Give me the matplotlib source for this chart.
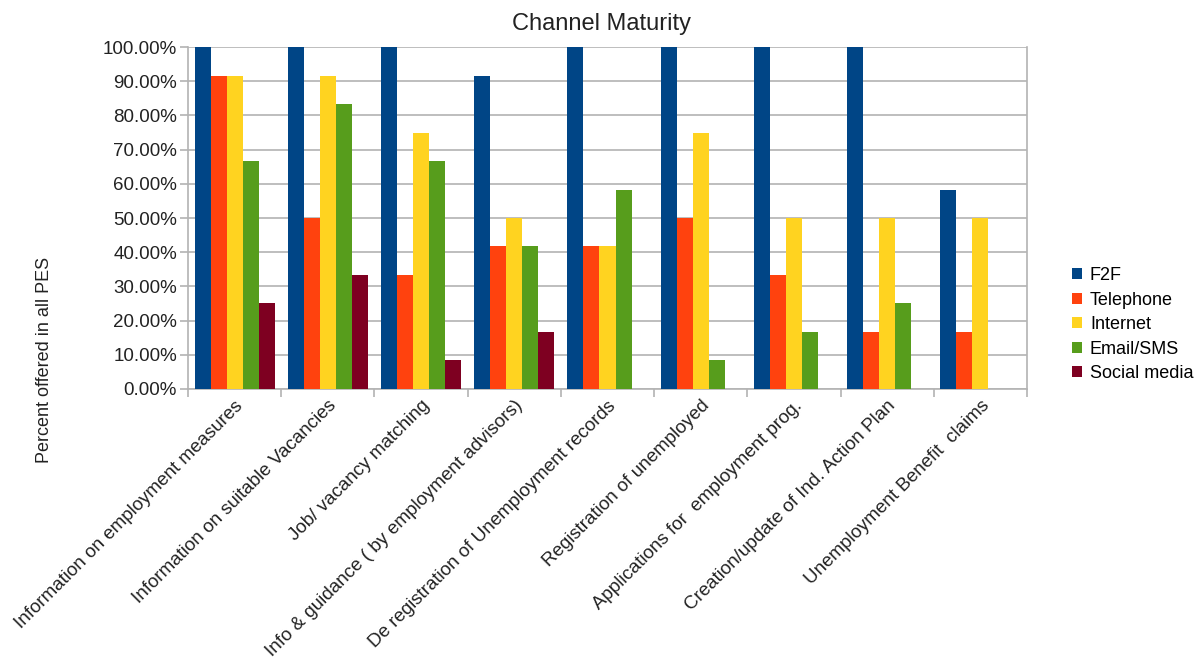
import numpy as np
import matplotlib
matplotlib.use("Agg")
import matplotlib.pyplot as plt
from matplotlib.ticker import FuncFormatter

plt.rcParams['font.family'] = ['Liberation Sans', 'DejaVu Sans']

categories = [
    "Information on employment measures",
    "Information on suitable Vacancies",
    "Job/ vacancy matching",
    "Info & guidance ( by employment advisors)",
    "De registration of Unemployment records",
    "Registration of unemployed",
    "Applications for  employment prog.",
    "Creation/update of Ind. Action Plan",
    "Unemployment Benefit  claims",
]
series = ["F2F", "Telephone", "Internet", "Email/SMS", "Social media"]
f2f = [100, 100, 100, 91.67, 100, 100, 100, 100, 58.33]
telephone = [91.67, 50, 33.33, 41.67, 41.67, 50, 33.33, 16.67, 16.67]
internet = [91.67, 91.67, 75, 50, 41.67, 75, 50, 50, 50]
email_sms = [66.67, 83.33, 66.67, 41.67, 58.33, 8.33, 16.67, 25, 0]
social = [25, 33.33, 8.33, 16.67, 0, 0, 0, 0, 0]
colors = ["#004586", "#ff420e", "#ffd320", "#579d1c", "#7e0021"]

fig = plt.figure(figsize=(12.03, 6.68), dpi=100)
ax = fig.add_axes([0.1563, 0.4177, 0.6974, 0.5119])

x = np.arange(len(categories))
w = 0.172
for i, (name, vals) in enumerate(zip(series, [f2f, telephone, internet, email_sms, social])):
    ax.bar(x + (i - 2) * w, vals, w, color=colors[i], label=name, zorder=3)

ax.set_xlim(-0.5, len(categories) - 0.5)
ax.set_ylim(0, 100)
ax.set_yticks(np.arange(0, 101, 10))
ax.yaxis.set_major_formatter(FuncFormatter(lambda v, p: f"{v:.2f}%"))
ax.grid(axis='y', color='#b3b3b3', linewidth=1.2, zorder=0)

# group separators as ticks on the category axis
ax.set_xticks(np.arange(-0.5, len(categories), 1.0))
ax.set_xticklabels([])
ax.set_xticks(x, minor=True)
ax.set_xticklabels(categories, minor=True, rotation=45, ha='right',
                   rotation_mode='anchor', fontsize=13.5, color='#222222')
ax.tick_params(axis='x', which='minor', length=0, pad=6)
ax.tick_params(axis='x', which='major', length=6, color='#b3b3b3', width=1.2)
ax.tick_params(axis='y', length=6, color='#b3b3b3', width=1.2, labelsize=13.5,
               labelcolor='#222222', pad=2)

for side in ['left', 'right', 'bottom']:
    ax.spines[side].set_color('#b3b3b3')
    ax.spines[side].set_linewidth(1.2)
ax.spines['top'].set_visible(False)

fig.text(0.5, 0.964, "Channel Maturity", ha='center', va='center',
         fontsize=17, color='#222222')
fig.text(0.037, 1 - 360 / 668, "Percent offered in all PES", rotation=90,
         ha='center', va='center', fontsize=13, color='#222222')

leg = fig.legend(loc='center left', bbox_to_anchor=(0.891, 0.514), frameon=False,
                 fontsize=13, handlelength=0.55, handleheight=0.55,
                 handletextpad=0.45, labelspacing=0.42, borderpad=0, borderaxespad=0)

fig.savefig("out.png", dpi=100)
